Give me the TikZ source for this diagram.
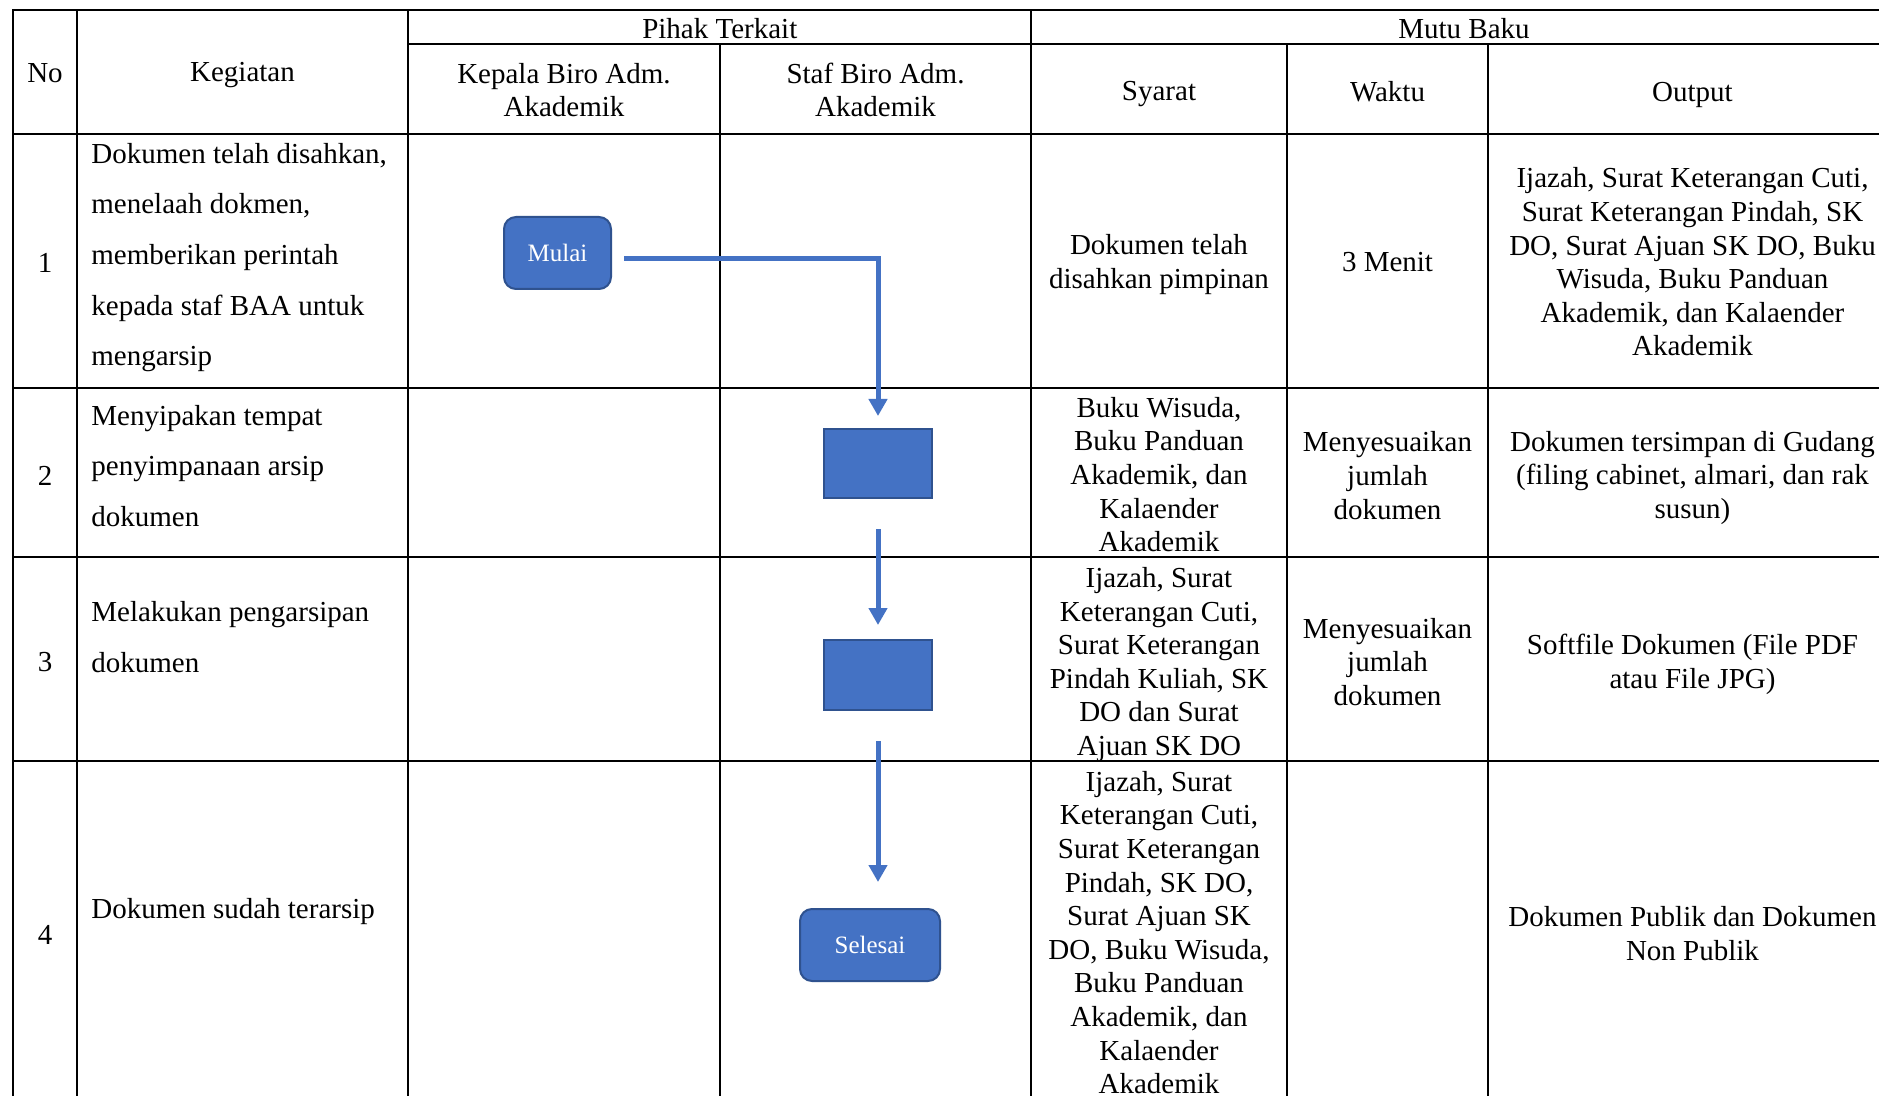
\documentclass[tikz,border=0pt]{standalone}
\usepackage{fontspec}
\setmainfont{Liberation Serif}
\usetikzlibrary{arrows.meta}
\definecolor{flowblue}{HTML}{4472C4}
\definecolor{flowedge}{HTML}{2F528F}
\begin{document}
\begin{tikzpicture}[x=0.5pt,y=-0.5pt,
  grid/.style={line width=1.25pt, line cap=rect},
  txt/.style={font=\fontsize{14.5}{16.8}\selectfont, align=center, inner sep=0pt},
  act/.style={font=\fontsize{14.5}{25.35}\selectfont, align=left, inner sep=0pt, anchor=west},
  term/.style={draw=flowedge, fill=flowblue, line width=1pt, rounded corners=6pt, text=white,
               font=\fontsize{12.5}{14}\selectfont, inner sep=0pt},
  proc/.style={draw=flowedge, fill=flowblue, line width=1pt, inner sep=0pt},
  flow/.style={draw=flowblue, line width=2.5pt, -{Triangle[length=8.5pt,width=9pt]}}
]
\useasboundingbox (0,0) rectangle (1879,1096);
\clip (0,0) rectangle (1879,1096);
\fill[white] (0,0) rectangle (1879,1096);

% table grid
\draw[grid] (13,10) -- (1898,10);
\draw[grid] (408,44) -- (1898,44);
\foreach \yy in {134,388,557,761,1103} \draw[grid] (13,\yy) -- (1898,\yy);
\foreach \xx in {13,77,408,1031,1898} \draw[grid] (\xx,10) -- (\xx,1103);
\foreach \xx in {720,1287,1488} \draw[grid] (\xx,44) -- (\xx,1103);

% header
\node[txt] (hno) at (45,73) {No};
\node[txt] (hkeg) at (242.5,75.5) {Kegiatan};
\node[txt] (hpihak) at (719.75,29) {Pihak Terkait};
\node[txt] (hmutu) at (1464,29) {Mutu Baku};
\node[txt] (hkepala) at (564,90) {Kepala Biro Adm.\\Akademik};
\node[txt] (hstaf) at (875.5,90) {Staf Biro Adm.\\Akademik};
\node[txt] (hsyarat) at (1159,94.5) {Syarat};
\node[txt] (hwaktu) at (1387.5,92) {Waktu};
\node[txt] (houtput) at (1692.5,94.5) {Output};

% numbers
\node[txt] (n1) at (45,263) {1};
\node[txt] (n2) at (45,475.5) {2};
\node[txt] (n3) at (45,662.5) {3};
\node[txt] (n4) at (45,934.5) {4};

% kegiatan
\node[act] (k1) at (91,257.5) {Dokumen telah disahkan,\\menelaah dokmen,\\memberikan perintah\\kepada staf BAA untuk\\mengarsip};
\node[act] (k2) at (91,466) {Menyipakan tempat\\penyimpanaan arsip\\dokumen};
\node[act] (k3) at (91,637) {Melakukan pengarsipan\\dokumen};
\node[act] (k4) at (91,911.5) {Dokumen sudah terarsip};

% syarat
\node[txt] (s1) at (1159,264.5) {Dokumen telah\\disahkan pimpinan};
\node[txt] (s2) at (1159,474.5) {Buku Wisuda,\\Buku Panduan\\Akademik, dan\\Kalaender\\Akademik};
\node[txt] (s3) at (1159,664.5) {Ijazah, Surat\\Keterangan Cuti,\\Surat Keterangan\\Pindah Kuliah, SK\\DO dan Surat\\Ajuan SK DO};
\node[txt] (s4) at (1159,932.6) {Ijazah, Surat\\Keterangan Cuti,\\Surat Keterangan\\Pindah, SK DO,\\Surat Ajuan SK\\DO, Buku Wisuda,\\Buku Panduan\\Akademik, dan\\Kalaender\\Akademik};

% waktu
\node[txt] (w1) at (1387.5,262.5) {3 Menit};
\node[txt] (w2) at (1387.5,475.5) {Menyesuaikan\\jumlah\\dokumen};
\node[txt] (w3) at (1387.5,662) {Menyesuaikan\\jumlah\\dokumen};

% output
\node[txt] (o1) at (1692.5,262) {Ijazah, Surat Keterangan Cuti,\\Surat Keterangan Pindah, SK\\DO, Surat Ajuan SK DO, Buku\\Wisuda, Buku Panduan\\Akademik, dan Kalaender\\Akademik};
\node[txt] (o2) at (1692.5,478) {Dokumen tersimpan di Gudang\\(filing cabinet, almari, dan rak\\susun)};
\node[txt] (o3) at (1692.5,664.5) {Softfile Dokumen (File PDF\\atau File JPG)};
\node[txt] (o4) at (1692.5,933.5) {Dokumen Publik dan Dokumen\\Non Publik};

% flow shapes
\node[term, minimum width=53.5pt, minimum height=36pt] (mulai) at (557.5,253) {Mulai};
\node[proc, minimum width=54pt, minimum height=34.5pt] (b1) at (878,463.5) {};
\node[proc, minimum width=54pt, minimum height=35pt] (b2) at (878,675) {};
\node[term, minimum width=70pt, minimum height=36pt] (sel) at (870,945) {Selesai};

% connectors
\draw[flow, shorten <=6pt, shorten >=6pt] ([yshift=-3pt]mulai.east) -| (b1.north);
\draw[flow, shorten <=15pt, shorten >=7pt] (b1.south) -- (b2.north);
\draw[flow, shorten <=15pt, shorten >=13pt] (b2.south) -- (b2.south |- sel.north);
\end{tikzpicture}
\end{document}
